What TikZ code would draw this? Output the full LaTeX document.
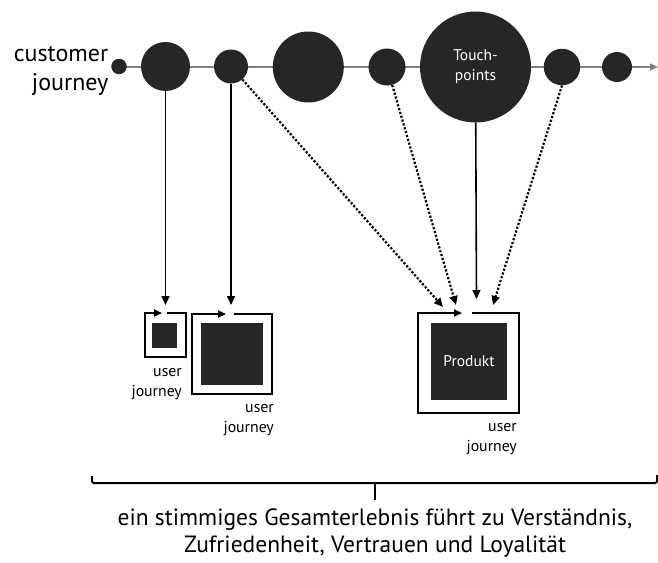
\documentclass[tikz,border=0pt]{standalone}
\usepackage{fontspec}
\setmainfont{PT Sans}
\usetikzlibrary{arrows.meta}
\definecolor{tpdark}{HTML}{262626}
\definecolor{tpgrey}{HTML}{7F7F7F}
\tikzset{
  touch/.style={circle,fill=tpdark,inner sep=0pt,minimum size=#1},
  feed/.style={line width=1.6pt,-{Triangle[length=9pt,width=8pt]}},
  dotfeed/.style={feed,line width=2.2pt,dash pattern=on 2.2pt off 1.8pt},
  ujframe/.style={line width=1.8pt,line join=miter,-{Triangle[length=8pt,width=7pt]}},
  ujbox/.style={fill=tpdark,inner sep=0pt},
  ujtext/.style={align=right,anchor=east,inner sep=0pt,font=\fontsize{15.8}{20}\selectfont}
}
\begin{document}
\begin{tikzpicture}[x=1pt,y=-1pt]
	\useasboundingbox (0,0) rectangle (658,562);
	% timeline
	\coordinate (tlstart) at (119,67);
	\coordinate (tlend) at (658,67);
	\draw[tpgrey,line width=2pt,-{Triangle[length=8pt,width=7pt]}] (tlstart) -- (tlend);
	\node[align=right,anchor=east,inner sep=0pt,font=\fontsize{24}{29.5}\selectfont] (cj) at (108.5,71) {customer\\journey};
	\node[touch=15.5] (c0) at (119,66.5) {};
	\node[touch=49] (c1) at (165.5,66.5) {};
	\node[touch=34] (c2) at (231,66.5) {};
	\node[touch=71] (c3) at (308.3,67) {};
	\node[touch=37] (c4) at (387,67) {};
	\node[touch=111,text=white,align=center,font=\fontsize{15.5}{20}\selectfont] (c5) at (475.5,67) {Touch-\\points};
	\node[touch=36.5] (c6) at (562,67) {};
	\node[touch=30] (c7) at (617,67) {};
	% user journeys
	\node[ujbox,minimum width=25,minimum height=25] (p1) at (164.5,335.5) {};
	\draw[ujframe] (167,313) -- (186,313) -- (186,357) -- (145,357) -- (145,313) -- (162,313);
	\node[ujtext] (u1) at (182,384) {user\\journey};
	\node[ujbox,minimum width=62,minimum height=62] (p2) at (232,354) {};
	\draw[ujframe] (234,314) -- (272,314) -- (272,394) -- (192,394) -- (192,314) -- (226,314);
	\node[ujtext] (u2) at (274,420) {user\\journey};
	\node[ujbox,minimum width=76,minimum height=77,text=white,font=\fontsize{15.5}{20}\selectfont] (prod) at (469,361.5) {Produkt};
	\draw[ujframe] (472,313) -- (519,313) -- (519,413) -- (418,413) -- (418,313) -- (462,313);
	\node[ujtext] (u3) at (517,439) {user\\journey};
	% connectors
	\coordinate (in1) at (165.5,305);
	\coordinate (in2) at (231,305);
	\coordinate (in3) at (443,307);
	\coordinate (in4) at (456,305);
	\coordinate (in5) at (476.5,299);
	\coordinate (in6) at (493,305);
	\draw[feed] (c1) -- (in1);
	\draw[feed] (c2) -- (in2);
	\draw[dotfeed] (c2) -- (in3);
	\draw[dotfeed] (c4) -- (in4);
	\draw[feed] (c5) -- (in5);
	\draw[dotfeed] (c6.south) -- (in6);
	% brace
	\draw[line width=2pt,rounded corners=1.5pt] (92,476) -- (92,483) -- (657,483) -- (657,475);
	\draw[line width=2pt] (375,483) -- (375,500);
	\node[align=center,inner sep=0pt,font=\fontsize{23.5}{27}\selectfont] (sum) at (375,533.5) {ein stimmiges Gesamterlebnis führt zu Verständnis,\\Zufriedenheit, Vertrauen und Loyalität};
\end{tikzpicture}
\end{document}
